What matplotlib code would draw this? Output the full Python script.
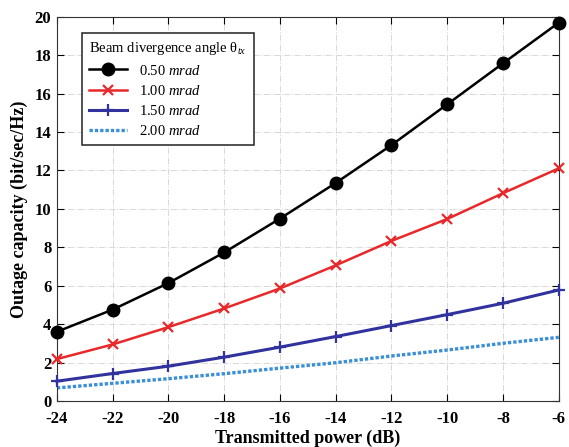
import numpy as np
import matplotlib.pyplot as plt

plt.rcParams['font.family'] = ['Liberation Serif', 'DejaVu Serif']
plt.rcParams['mathtext.fontset'] = 'custom'
plt.rcParams['mathtext.rm'] = 'Liberation Serif'
plt.rcParams['mathtext.it'] = 'Liberation Serif:italic'
plt.rcParams['axes.unicode_minus'] = False

# 送信電力 (dB)
power = [-24, -22, -20, -18, -16, -14, -12, -10, -8, -6]
# ビーム発散角ごとのアウテージ容量
cap_050 = [3.62, 4.77, 6.15, 7.74, 9.5, 11.35, 13.32, 15.44, 17.57, 19.68]
cap_100 = [2.2, 2.96, 3.86, 4.83, 5.87, 7.07, 8.34, 9.48, 10.82, 12.11]
cap_150 = [1.05, 1.45, 1.83, 2.3, 2.82, 3.37, 3.94, 4.51, 5.1, 5.79]
cap_200 = [0.7, 0.94, 1.18, 1.44, 1.73, 2.01, 2.36, 2.67, 3.02, 3.33]

xticks = [-24, -22, -20, -18, -16, -14, -12, -10, -8, -6]
yticks = [0, 2, 4, 6, 8, 10, 12, 14, 16, 18, 20]

fig = plt.figure(figsize=(5.69, 4.47), dpi=100)
ax = fig.add_axes([0.1, 0.102, 0.882, 0.861])

ax.plot(power, cap_050, color='black', lw=1.8, marker='o', ms=9,
        label=r'0.50 $\it{mrad}$', clip_on=False, zorder=5)
ax.plot(power, cap_100, color='#e8282a', lw=1.8, marker='x', ms=7, mew=1.6,
        label=r'1.00 $\it{mrad}$', clip_on=False, zorder=4)
ax.plot(power, cap_150, color='#32329e', lw=2.2, marker='+', ms=9, mew=1.6,
        label=r'1.50 $\it{mrad}$', clip_on=False, zorder=3)
ax.plot(power, cap_200, color='#3b8fd4', lw=2.4, ls=(0, (1, 0.6)),
        label=r'2.00 $\it{mrad}$', clip_on=False, zorder=2)

ax.set_xlim(-24, -6)
ax.set_ylim(0, 20)
ax.set_xticks(xticks)
ax.set_yticks(yticks)
ax.tick_params(direction='in', top=True, right=True, length=5, labelsize=12)
ax.tick_params(axis='x', pad=7)
ax.tick_params(axis='y', pad=4)
for lab in ax.get_xticklabels() + ax.get_yticklabels():
    lab.set_fontweight('bold')
ax.grid(True, color='#d8d8d8', ls='-.', lw=0.7)
for s in ax.spines.values():
    s.set_color('#333333')

ax.set_xlabel('Transmitted power (dB)', fontsize=13, fontweight='bold', labelpad=2)
ax.set_ylabel('Outage capacity (bit/sec/Hz)', fontsize=13, fontweight='bold', labelpad=5)

leg = ax.legend(title=r'Beam divergence angle $\mathrm{\theta}_{\it{tx}}$',
                loc='upper left', bbox_to_anchor=(0.05, 0.957), fontsize=10.5,
                title_fontsize=10.5, fancybox=False, edgecolor='#333333',
                framealpha=1, borderaxespad=0, handlelength=2.6,
                labelspacing=0.42, borderpad=0.5)
leg.get_frame().set_linewidth(1.2)
leg._legend_box.align = 'left'

fig.savefig('out.png', dpi=100)
